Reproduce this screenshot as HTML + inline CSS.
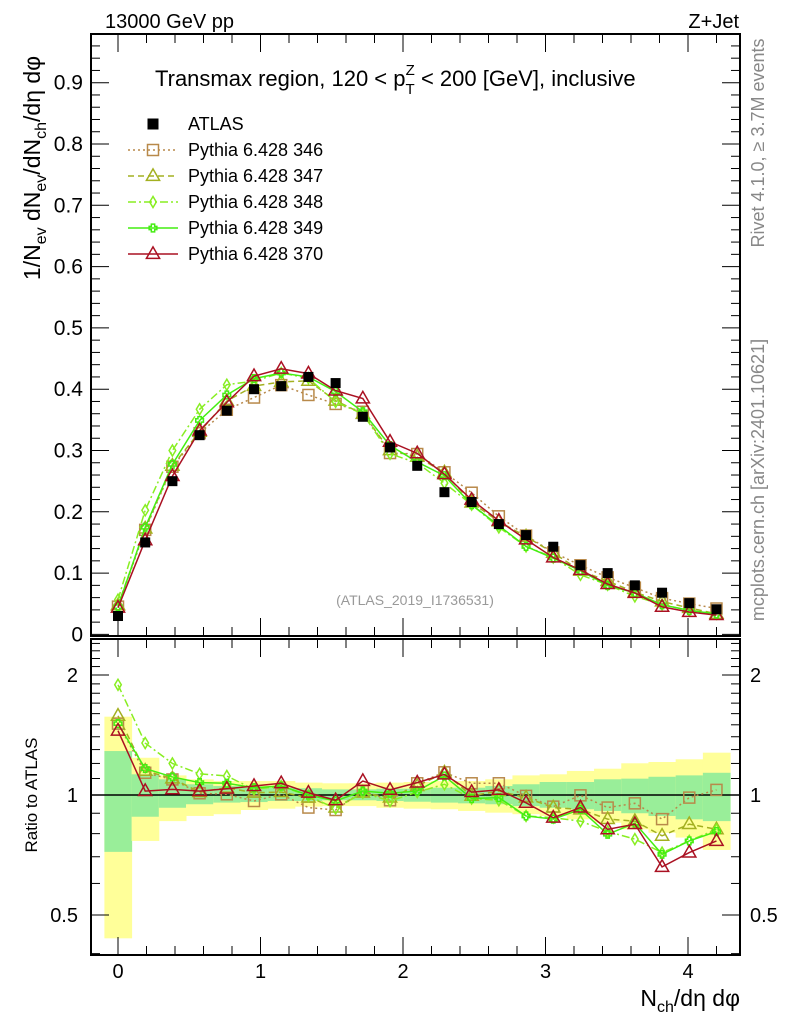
<!DOCTYPE html>
<html><head><meta charset="utf-8"><style>
html,body{margin:0;padding:0;background:#fff;}
svg{display:block;font-family:"Liberation Sans",sans-serif;}
</style></head><body>
<svg id="chart" width="786" height="1024" viewBox="0 0 786 1024" xmlns="http://www.w3.org/2000/svg">
<g id="bands"></g>
<g id="main"></g>
<g id="ratio"></g>
<g id="axes"></g>
<text x="105" y="28" font-size="20">13000 GeV pp</text>
<text x="739" y="28" font-size="20" text-anchor="end">Z+Jet</text>
<text x="155" y="86" font-size="22">Transmax region, 120 &lt; p<tspan font-size="15" dy="8">T</tspan><tspan font-size="15" dx="-9" dy="-19">Z</tspan><tspan dy="11"> &lt; 200 [GeV], inclusive</tspan></text>
<text x="415" y="605" font-size="14" fill="#999" text-anchor="middle">(ATLAS_2019_I1736531)</text>
<text transform="translate(764,143) rotate(-90)" font-size="18" fill="#888" text-anchor="middle">Rivet 4.1.0, ≥ 3.7M events</text>
<text transform="translate(764,480) rotate(-90)" font-size="18" fill="#888" text-anchor="middle">mcplots.cern.ch [arXiv:2401.10621]</text>
<text transform="translate(40,168) rotate(-90)" font-size="23" text-anchor="middle">1/N<tspan font-size="16" dy="6">ev</tspan><tspan dy="-6"> dN</tspan><tspan font-size="16" dy="6">ev</tspan><tspan dy="-6">/dN</tspan><tspan font-size="16" dy="6">ch</tspan><tspan dy="-6">/dη dφ</tspan></text>
<text transform="translate(37,795) rotate(-90)" font-size="17" text-anchor="middle">Ratio to ATLAS</text>
<text x="740" y="1006" font-size="23" text-anchor="end">N<tspan font-size="16" dy="6">ch</tspan><tspan dy="-6">/dη dφ</tspan></text>
<g id="legend"></g>
</svg>
<script>
const xStep = 0.1909;
const atlas = [0.030,0.150,0.250,0.325,0.365,0.400,0.405,0.420,0.410,0.355,0.305,0.275,0.232,0.216,0.180,0.162,0.143,0.113,0.100,0.080,0.068,0.051,0.041];
const ratio346 = [1.51,1.137,1.094,1.01,1.004,0.966,1.004,0.93,0.917,1.023,0.97,1.07,1.14,1.07,1.07,0.995,0.935,0.998,0.93,0.953,0.87,0.985,1.03];
const ratio347 = [1.58,1.15,1.1,1.017,1.043,1.013,1.017,0.985,0.93,1.013,0.985,1.053,1.138,0.995,1.023,0.985,0.93,0.92,0.87,0.86,0.79,0.845,0.82];
const ratio348 = [1.89,1.35,1.2,1.13,1.116,1.033,1.053,0.995,0.925,1.013,0.966,1.017,1.064,0.98,0.97,0.886,0.877,0.86,0.81,0.775,0.717,0.767,0.82];
const ratio349 = [1.51,1.165,1.11,1.074,1.07,1.043,1.053,1.0,0.966,1.023,1.01,1.023,1.116,0.98,0.985,0.886,0.87,0.92,0.797,0.85,0.71,0.767,0.81];
const ratio370 = [1.45,1.023,1.033,1.023,1.037,1.053,1.07,1.013,0.97,1.084,1.03,1.074,1.126,1.017,1.03,0.956,0.877,0.93,0.82,0.845,0.66,0.717,0.767];
const yellowHi = [1.572,1.24,1.12,1.095,1.084,1.084,1.084,1.074,1.07,1.07,1.074,1.078,1.084,1.084,1.095,1.12,1.127,1.149,1.164,1.201,1.21,1.229,1.277];
const yellowLo = [0.437,0.767,0.86,0.886,0.895,0.917,0.924,0.935,0.938,0.938,0.929,0.924,0.921,0.912,0.903,0.895,0.886,0.869,0.852,0.82,0.804,0.782,0.728];
const greenHi = [1.289,1.127,1.095,1.064,1.053,1.043,1.043,1.04,1.033,1.033,1.037,1.037,1.043,1.043,1.053,1.064,1.078,1.078,1.095,1.099,1.111,1.12,1.137];
const greenLo = [0.72,0.882,0.929,0.948,0.957,0.96,0.966,0.966,0.97,0.97,0.966,0.962,0.957,0.953,0.948,0.938,0.929,0.921,0.912,0.9,0.886,0.869,0.86];
const mainYTicks = ["0","0.1","0.2","0.3","0.4","0.5","0.6","0.7","0.8","0.9"];
const xTickLabels = ["0","1","2","3","4"];
const ratioTickLabels = ["0.5","1","2"];

const NS="http://www.w3.org/2000/svg";
const L=91,R=740,MT=34,MB=636,RT=639,RB=955;
const X=v=>118+v*142.5;
const Y=v=>634.4-v*613;
const YR=r=>795-120*Math.log2(r);
function mk(tag,attrs,parent){const e=document.createElementNS(NS,tag);for(const k in attrs)e.setAttribute(k,attrs[k]);parent.appendChild(e);return e;}
const gB=document.getElementById('bands'),gM=document.getElementById('main'),gR=document.getElementById('ratio'),gA=document.getElementById('axes'),gL=document.getElementById('legend');
const bw=xStep*142.5;
for(let i=0;i<atlas.length;i++){
  const cx=X(i*xStep);
  let r=mk('rect',{x:cx-bw/2,y:YR(yellowHi[i]),width:bw+0.5,height:YR(yellowLo[i])-YR(yellowHi[i]),fill:'#ffff99'},gB);
  
  
  let g=mk('rect',{x:cx-bw/2,y:YR(greenHi[i]),width:bw+0.5,height:YR(greenLo[i])-YR(greenHi[i]),fill:'#99ee99'},gB);
  
  
}
const series=[
 {id:'346',r:ratio346,c:'#b8894a',dash:'2,3',m:'square'},
 {id:'347',r:ratio347,c:'#a3b020',dash:'6,4',m:'tri'},
 {id:'348',r:ratio348,c:'#88ee22',dash:'8,3,2,3',m:'diamond'},
 {id:'349',r:ratio349,c:'#44ee11',dash:'',m:'plus'},
 {id:'370',r:ratio370,c:'#aa1122',dash:'',m:'tri'}
];
function marker(type,x,y,c,parent,s){
  let e;
  if(type==='square')e=mk('rect',{x:x-s,y:y-s,width:2*s,height:2*s,fill:'none',stroke:c,'stroke-width':1.5},parent);
  else if(type==='tri')e=mk('polygon',{points:`${x},${y-s*1.3} ${x-s*1.2},${y+s*0.8} ${x+s*1.2},${y+s*0.8}`,fill:'none',stroke:c,'stroke-width':1.5},parent);
  else if(type==='diamond')e=mk('polygon',{points:`${x},${y-s} ${x-s*0.6},${y} ${x},${y+s} ${x+s*0.6},${y}`,fill:'none',stroke:c,'stroke-width':1.5},parent);
  else if(type==='plus')e=mk('path',{d:`M${x-s*0.7},${y-s*0.3}h${s*0.4}v${-s*0.4}h${s*0.6}v${s*0.4}h${s*0.4}v${s*0.6}h${-s*0.4}v${s*0.4}h${-s*0.6}v${-s*0.4}h${-s*0.4}z`,fill:'none',stroke:c,'stroke-width':1.5},parent);
  else e=mk('rect',{x:x-s,y:y-s,width:2*s,height:2*s,fill:c},parent);
  return e;
}
let ref=mk('line',{x1:L,x2:R,y1:YR(1),y2:YR(1),stroke:'#000','stroke-width':1.5},gR);


series.forEach(s=>{
  const mainPts=atlas.map((a,i)=>[X(i*xStep),Y(a*s.r[i])]);
  const ratPts=s.r.map((r,i)=>[X(i*xStep),YR(r)]);
  let pl=mk('polyline',{points:mainPts.map(p=>p.join(',')).join(' '),fill:'none',stroke:s.c,'stroke-width':1.5,'stroke-dasharray':s.dash},gM);
  
  
  let pr=mk('polyline',{points:ratPts.map(p=>p.join(',')).join(' '),fill:'none',stroke:s.c,'stroke-width':1.5,'stroke-dasharray':s.dash},gR);
  
  
  mainPts.forEach(p=>{const e=marker(s.m,p[0],p[1],s.c,gM,5.5);
    
    });
  ratPts.forEach(p=>{const e=marker(s.m,p[0],p[1],s.c,gR,5.5);
    
    });
});
atlas.forEach((a,i)=>{const e=marker('fill',X(i*xStep),Y(a),'#000',gM,5);
  
  });
[[MT,MB],[RT,RB]].forEach(([t,b],k)=>{
  const f=mk('rect',{x:L,y:t,width:R-L,height:b-t,fill:'none',stroke:'#000','stroke-width':2},gA);
  
  
  for(let v=-0.2;v<=4.41;v+=0.2){
    const x=X(v);if(x<L||x>R)continue;
    const maj=Math.abs(v-Math.round(v))<0.01;const len=maj?18:9;
    mk('line',{x1:x,x2:x,y1:b,y2:b-len,stroke:'#000','stroke-width':1},gA);
    mk('line',{x1:x,x2:x,y1:t,y2:t+len,stroke:'#000','stroke-width':1},gA);
  }
});
for(let i=0;i<=48;i++){const v=i*0.02,y=Y(v);if(y<MT)break;const maj=i%5===0;const len=maj?18:9;
  mk('line',{x1:L,x2:L+len,y1:y,y2:y,stroke:'#000'},gA);mk('line',{x1:R,x2:R-len,y1:y,y2:y,stroke:'#000'},gA);}
mainYTicks.forEach((t,i)=>{const e=mk('text',{x:83,y:Y(i*0.1)+7,'font-size':21,'text-anchor':'end'},gA);e.textContent=t;
  
  });
const rt=[];for(let v=0.4;v<=2.5;v+=0.1)rt.push(Math.round(v*10)/10);
rt.forEach(v=>{const y=YR(v);if(y<RT||y>RB)return;const maj=(v===0.5||v===1||v===2);const len=maj?18:9;
  mk('line',{x1:L,x2:L+len,y1:y,y2:y,stroke:'#000'},gA);mk('line',{x1:R,x2:R-len,y1:y,y2:y,stroke:'#000'},gA);});
ratioTickLabels.forEach(t=>{const y=YR(parseFloat(t))+7;
  const a=mk('text',{x:78,y:y,'font-size':20,'text-anchor':'end'},gA);a.textContent=t;
  
  
  const b=mk('text',{x:750,y:y,'font-size':20},gA);b.textContent=t;
  
  });
xTickLabels.forEach((t,i)=>{const e=mk('text',{x:X(i),y:978,'font-size':20,'text-anchor':'middle'},gA);e.textContent=t;
  
  });
const leg=[{n:'ATLAS',m:'fill',c:'#000',d:null}].concat(series.map(s=>({n:'Pythia 6.428 '+s.id,m:s.m,c:s.c,d:s.dash})));
leg.forEach((l,i)=>{const y=124+i*26;
  if(l.d!==null){const ln=mk('line',{x1:128,x2:178,y1:y,y2:y,stroke:l.c,'stroke-width':1.5,'stroke-dasharray':l.d},gL);
    
    }
  const mm=marker(l.m,153,y,l.c,gL,5.5);
  
  
  const t=mk('text',{x:188,y:y+6,'font-size':18},gL);t.textContent=l.n;
  
  });
</script>
</body></html>
